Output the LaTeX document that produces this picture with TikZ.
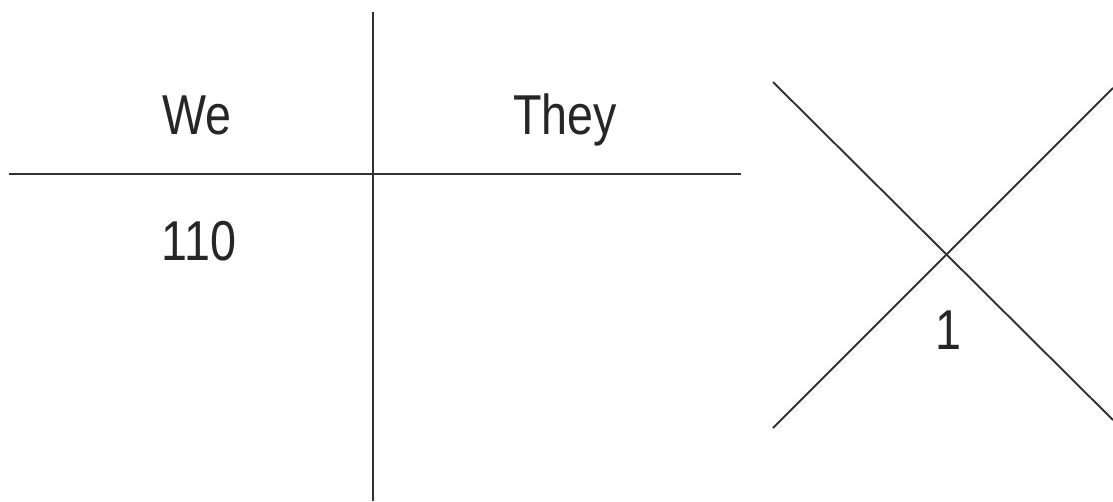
\documentclass[tikz,border=0pt]{standalone}
\usepackage{fontspec}
\newfontfamily\cf[FakeStretch=0.83]{Liberation Sans}
\definecolor{ink}{HTML}{333333}
\begin{document}
\begin{tikzpicture}[x=0.02cm,y=-0.02cm,
  rule/.style={draw=ink,line width=1.1pt},
  lbl/.style={inner sep=0pt,anchor=base,text=black!85,font=\cf\fontsize{32}{36}\selectfont}]
\useasboundingbox (0,0) rectangle (1113,501);
\coordinate (vt) at (373,12);
\coordinate (vb) at (373,501);
\coordinate (hl) at (9,174);
\coordinate (hr) at (741,174);
\draw[rule] (vt) -- (vb);
\draw[rule] (hl) -- (hr);
\node[lbl] (we) at (197,134) {We};
\node[lbl] (they) at (565,134) {They};
\node[lbl] (n110) at (199,260) {110};
\coordinate (a1) at (773,82);
\coordinate (a2) at (1113,420);
\coordinate (b1) at (773,428);
\coordinate (b2) at (1113,88);
\draw[rule] (a1) -- (a2);
\draw[rule] (b1) -- (b2);
\node[lbl] (one) at (948,349) {1};
\end{tikzpicture}
\end{document}
